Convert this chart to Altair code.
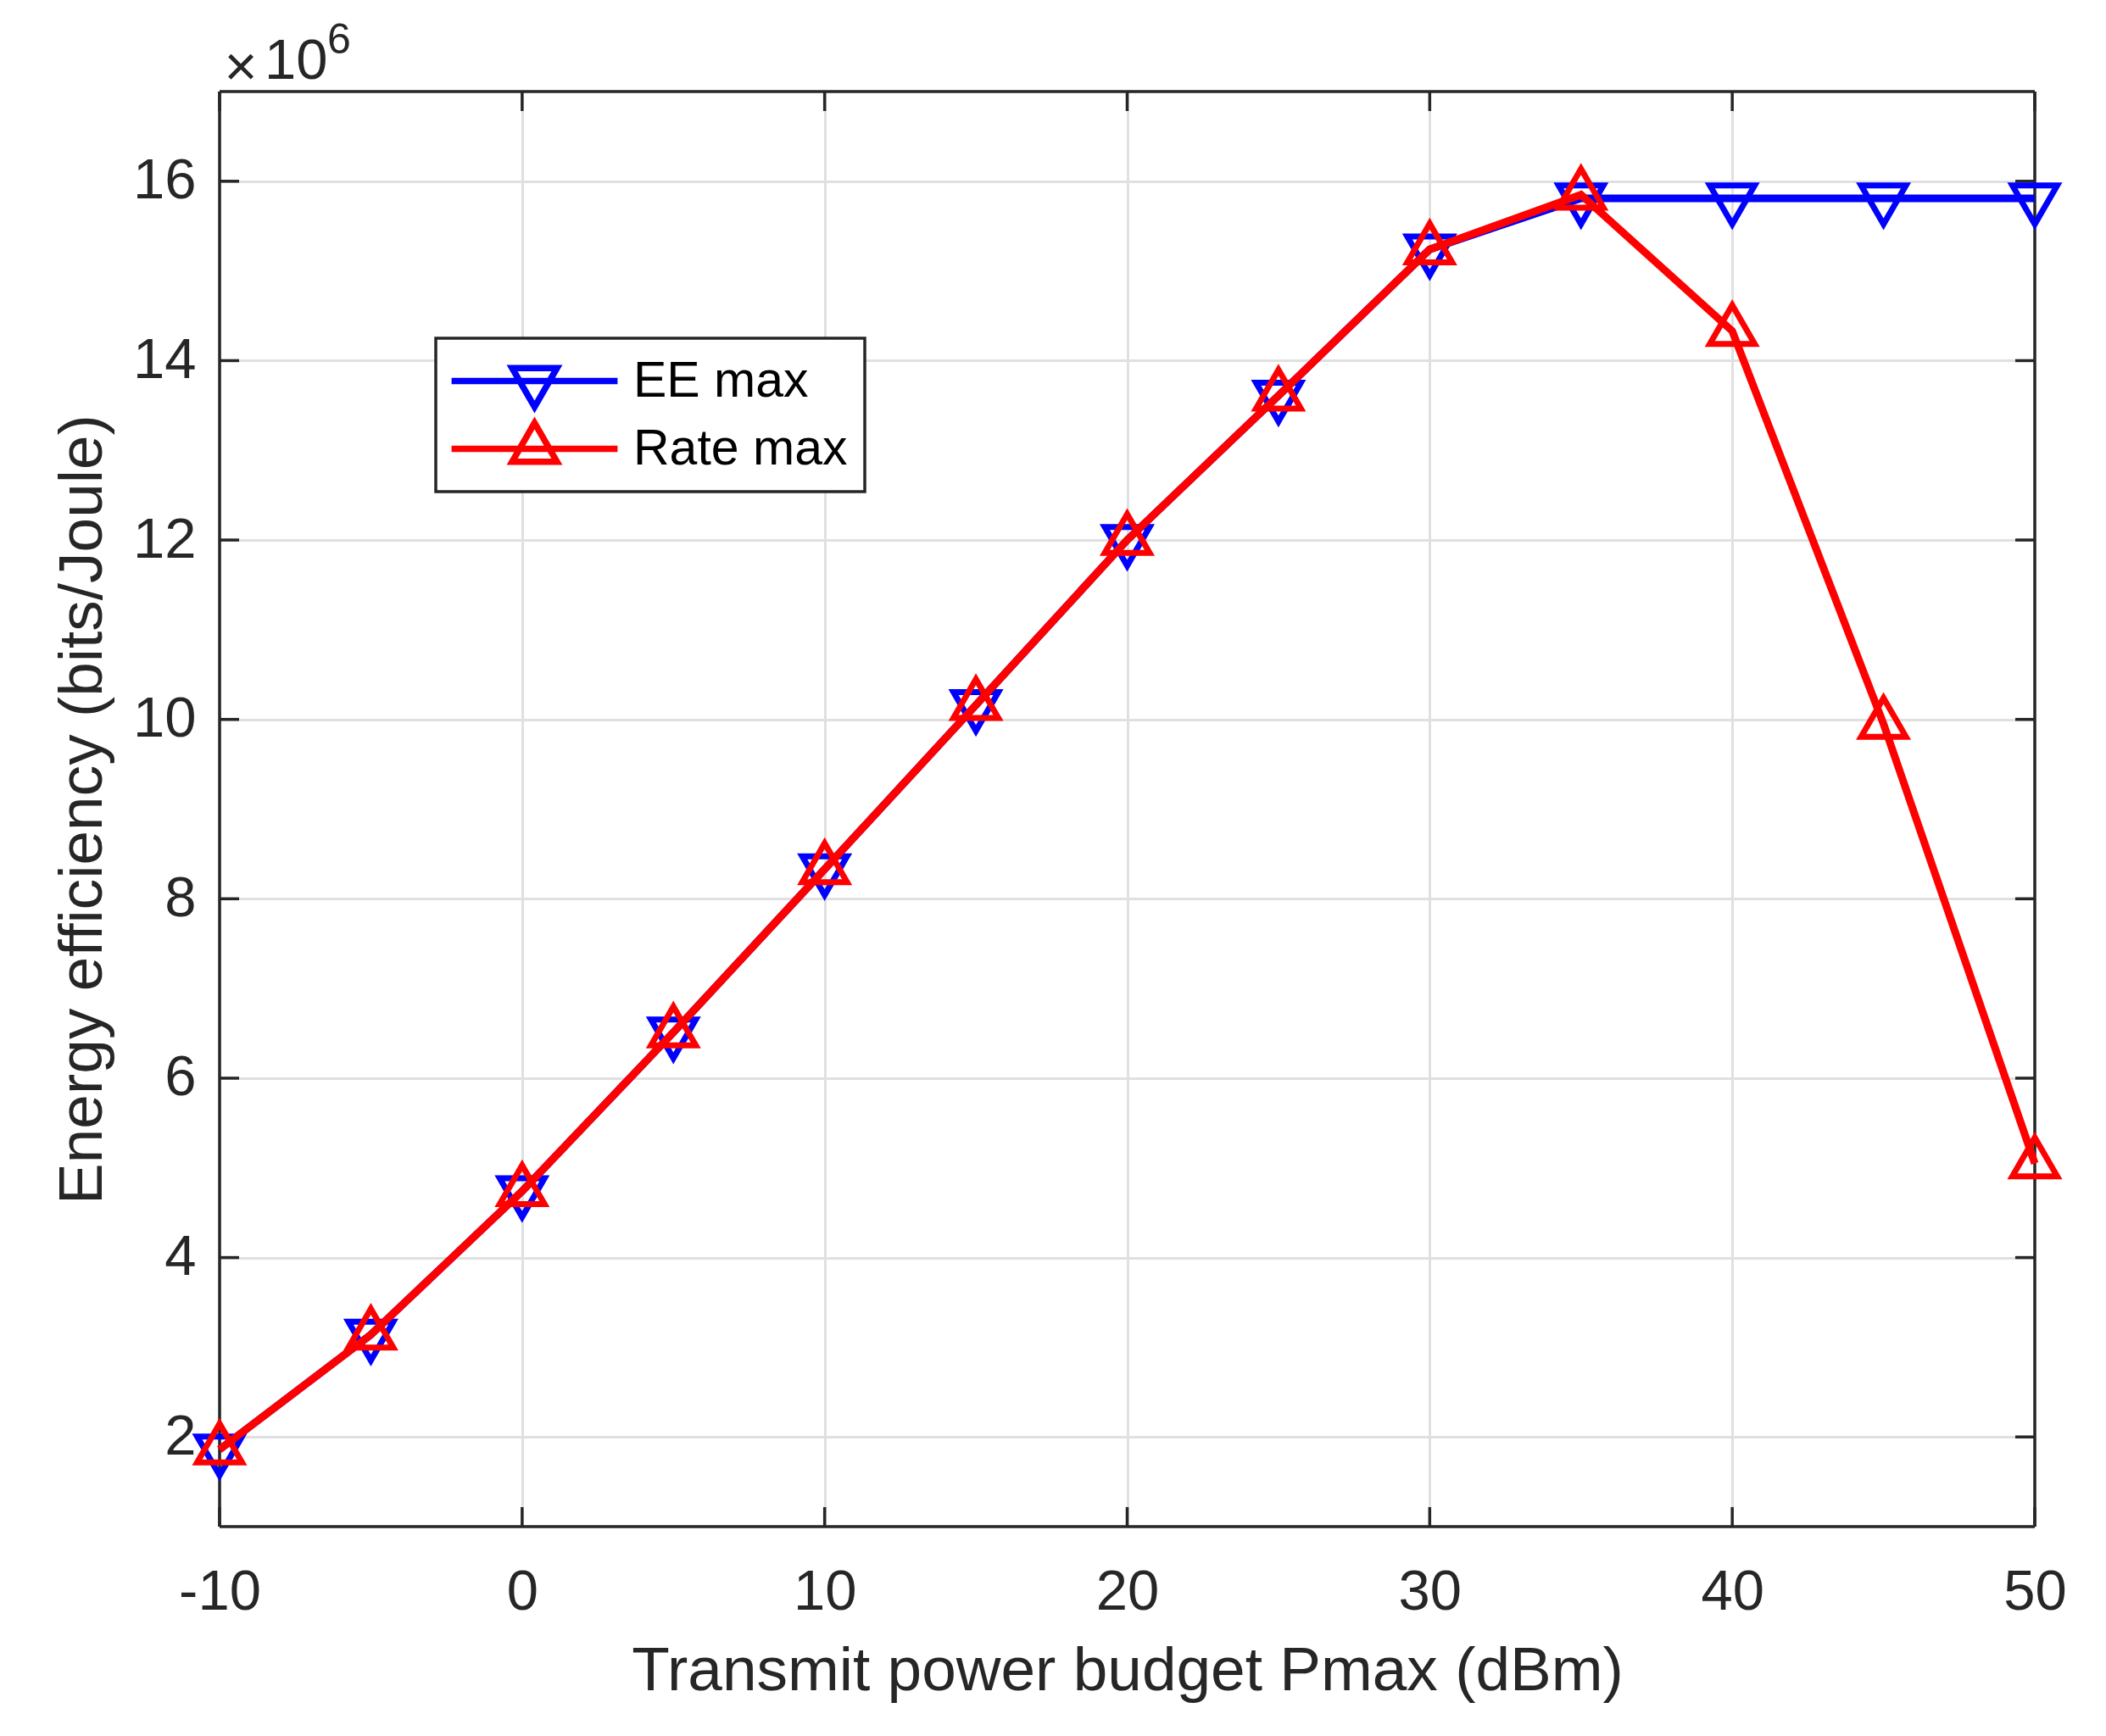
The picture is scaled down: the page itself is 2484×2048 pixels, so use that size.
import altair as alt
import pandas as pd

# ---------------- data ----------------
PMAX = [-10, -5, 0, 5, 10, 15, 20, 25, 30, 35, 40, 45, 50]
EE_MAX = [1.86, 3.14, 4.74, 6.51, 8.33, 10.16, 12.0, 13.61, 15.24, 15.81, 15.81, 15.81, 15.81]
RATE_MAX = [1.86, 3.14, 4.74, 6.51, 8.33, 10.16, 12.0, 13.61, 15.24, 15.85, 14.33, 9.95, 5.05]
SERIES = ["EE max", "Rate max"]
COLORS = ["#0000ff", "#ff0000"]
X_TICKS = [-10, 0, 10, 20, 30, 40, 50]
Y_TICKS = [2, 4, 6, 8, 10, 12, 14, 16]
X_DOMAIN = [-10, 50]
Y_DOMAIN = [1, 17]
X_TITLE = "Transmit power budget Pmax (dBm)"
Y_TITLE = "Energy efficiency (bits/Joule)"
EXP_TIMES = ["×"]
EXP_BASE = ["10"]
EXP_POWER = ["6"]

# ---------------- styling ----------------
FONT = "Liberation Sans"
AX = "#262626"
W, H = 2141, 1693
TICK = 23
MSIZE = 2800

DOWN = "M-1,-0.577L1,-0.577L0,1.155Z"
UP = "M0,-1.155L-1,0.577L1,0.577Z"
LEG_DOWN = "M-3.7,0H3.7M-1,-0.577L1,-0.577L0,1.155Z"
LEG_UP = "M-3.7,0H3.7M0,-1.155L-1,0.577L1,0.577Z"

df = pd.DataFrame({
    "pmax": PMAX * 2,
    "value": EE_MAX + RATE_MAX,
    "series": [SERIES[0]] * len(PMAX) + [SERIES[1]] * len(PMAX),
})

xscale = alt.Scale(domain=X_DOMAIN, nice=False, zero=False)
yscale = alt.Scale(domain=Y_DOMAIN, nice=False, zero=False)
cscale = alt.Scale(domain=SERIES, range=COLORS)

x_axis = alt.Axis(
    values=X_TICKS, labelExpr="'' + datum.value", grid=True, gridColor="#e0e0e0", gridWidth=3,
    domain=False, ticks=False,
    labelFont=FONT, labelFontSize=67, labelColor=AX, labelPadding=97,
    labelBaseline="alphabetic", labelFlush=False, labelOverlap=False,
    title=X_TITLE, titleFont=FONT, titleFontSize=73, titleFontWeight="normal",
    titleColor=AX, titleX=W / 2, titleY=192, titleBaseline="alphabetic", titleAlign="center",
)
y_axis = alt.Axis(
    values=Y_TICKS, labelExpr="'' + datum.value", grid=True, gridColor="#e0e0e0", gridWidth=3,
    domain=False, ticks=False,
    labelFont=FONT, labelFontSize=67, labelColor=AX, labelPadding=28,
    labelBaseline="middle", labelFlush=False, labelOverlap=False,
    title=Y_TITLE, titleFont=FONT, titleFontSize=73, titleFontWeight="normal",
    titleColor=AX, titleX=-140, titleY=H / 2, titleAngle=270, titleBaseline="alphabetic",
    titleAlign="center",
)

legend = alt.Legend(
    title=None, orient="none", legendX=255, legendY=291, direction="vertical",
    padding=20, fillColor="white", strokeColor=AX, cornerRadius=0,
    symbolSize=MSIZE, symbolStrokeWidth=7.5, symbolOpacity=1, symbolOffset=66,
    labelOffset=86, rowPadding=-13, labelFont=FONT, labelFontSize=59, labelColor="black",
    labelLimit=0,
)


def X(field):
    return alt.X(field, scale=xscale, axis=x_axis)


def Y(field):
    return alt.Y(field, scale=yscale, axis=y_axis)


base = alt.Chart(df)

xt = pd.DataFrame({"xt": X_TICKS})
yt = pd.DataFrame({"yt": Y_TICKS})
xd = pd.DataFrame({"xd": X_DOMAIN})
yd = pd.DataFrame({"yd": Y_DOMAIN})
tick_style = dict(color=AX, strokeWidth=3.5)
frame = [
    # inward ticks on all four sides
    alt.Chart(xt).mark_rule(**tick_style).encode(x=X("xt:Q"), y=alt.value(0), y2=alt.value(TICK)),
    alt.Chart(xt).mark_rule(**tick_style).encode(x=X("xt:Q"), y=alt.value(H - TICK), y2=alt.value(H)),
    alt.Chart(yt).mark_rule(**tick_style).encode(y=Y("yt:Q"), x=alt.value(0), x2=alt.value(TICK)),
    alt.Chart(yt).mark_rule(**tick_style).encode(y=Y("yt:Q"), x=alt.value(W - TICK), x2=alt.value(W)),
    # box frame on the domain edges
    alt.Chart(xd).mark_rule(**tick_style).encode(x=X("xd:Q"), y=alt.value(0), y2=alt.value(H)),
    alt.Chart(yd).mark_rule(**tick_style).encode(y=Y("yd:Q"), x=alt.value(0), x2=alt.value(W)),
]


def series_layers(i, shape):
    sub = base.transform_filter(alt.datum.series == SERIES[i])
    line = sub.mark_line(strokeWidth=9, color=COLORS[i]).encode(x=X("pmax:Q"), y=Y("value:Q"))
    pts = sub.mark_point(shape=shape, size=MSIZE, filled=False, strokeWidth=7,
                         opacity=1, color=COLORS[i]).encode(x=X("pmax:Q"), y=Y("value:Q"))
    return [line, pts]


# invisible layer that only carries the legend (line + marker symbols)
legend_carrier = base.mark_point(filled=False, opacity=0, strokeWidth=7.5).encode(
    x=X("pmax:Q"),
    y=Y("value:Q"),
    color=alt.Color("series:N", scale=cscale, legend=legend),
    shape=alt.Shape("series:N", scale=alt.Scale(domain=SERIES, range=[LEG_DOWN, LEG_UP]), legend=legend),
)

exp_times = alt.Chart(pd.DataFrame({"t": EXP_TIMES})).mark_text(
    align="center", baseline="alphabetic", font=FONT, fontSize=67, color=AX
).encode(text="t:N", x=alt.value(25), y=alt.value(-7))
exp_base = alt.Chart(pd.DataFrame({"t": EXP_BASE})).mark_text(
    align="left", baseline="alphabetic", font=FONT, fontSize=67, color=AX
).encode(text="t:N", x=alt.value(53), y=alt.value(-15))
exp_pow = alt.Chart(pd.DataFrame({"t": EXP_POWER})).mark_text(
    align="left", baseline="alphabetic", font=FONT, fontSize=50, color=AX
).encode(text="t:N", x=alt.value(127), y=alt.value(-45))

layers = ([legend_carrier] + frame + series_layers(0, DOWN) + series_layers(1, UP)
          + [exp_times, exp_base, exp_pow])

chart = alt.layer(*layers).properties(
    width=W, height=H,
    autosize=alt.AutoSizeParams(type="none"),
    padding={"left": 251, "top": 100, "right": 76, "bottom": 239},
    background="white",
).configure_view(stroke=None).configure_legend(strokeWidth=3.5)

chart.save("out.html", embed_options={"renderer": "svg", "actions": False})
